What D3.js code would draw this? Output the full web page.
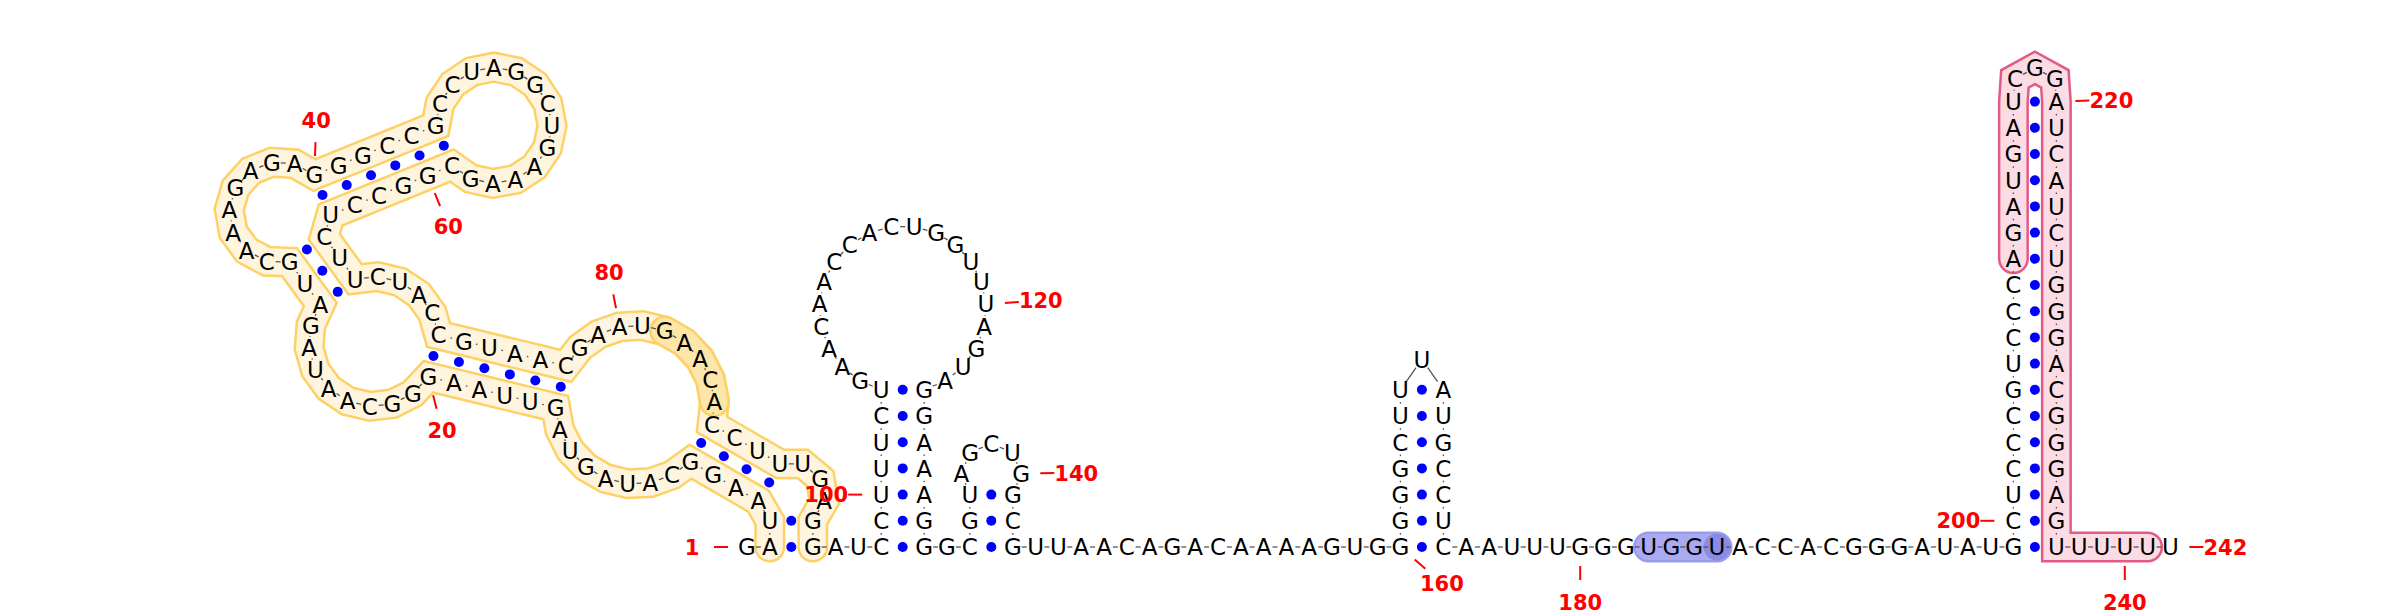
<!DOCTYPE html>
<html><head><meta charset="utf-8">
<script src="https://cdn.jsdelivr.net/npm/d3@7"></script>
<style>body{margin:0;background:#fff;} svg{display:block;}</style>
</head><body>
<svg id="chart" width="2400" height="614"></svg>
<script>
// ---------------- data ----------------
const sequenceChunks = [
  "GAUAAGGCAU","AGUAGUUAAG","GGCAAUAGAU","GCAAAGAGAG","GGCCGCCUAG",
  "GCUGAAAGCG","GCCUCUUCUA","CCGUAACGAA","UGAACACCUU","UGAGGAUCCU",
  "UUCUGAACAA","CCACUGGUUU","AGUAGGAAAG","GGCGUAGCUG","GCGUUAACAG",
  "ACAAAAGUGG","GGGCUUUAUG","CCUCAAUUUG","GGUGGUACCA","CGGGAUAUGC",
  "UCCCGUCCCA","GAUGAUCGGA","UCAUCUGGGA","CGGGAGUUUU","UU"
];
// helices: [5' start, 3' end, number of stacked pairs]
const helixStarts  = [2, 4, 15, 29, 40, 98, 133, 160, 199];
const helixEnds    = [95, 90, 77, 67, 64, 131, 143, 174, 237];
const helixLengths = [2, 4, 6, 3, 6, 7, 3, 7, 18];
const numberedBases = [1, 20, 40, 60, 80, 100, 120, 140, 160, 180, 200, 220, 240, 242];
// highlighted base ranges
const highlightFrom = [2, 82, 183, 186, 210];
const highlightTo   = [95, 86, 186, 186, 241];

// ---------------- styles / geometry ----------------
const highlightStyle = [
  {fill: "#fff5de", stroke: "#fdd166"},
  {fill: "#fde6a9", stroke: "#fdd166"},
  {fill: "#aaaaf2", stroke: "#9b9bee"},
  {fill: "#8b8be6", stroke: "none"},
  {fill: "#fbdce5", stroke: "#e35b84"}
];
const PX = 22.8;                 // backbone spacing in pixels
const UNIT_B = 1, UNIT_P = 43 / PX, UNIT_S = 26.2 / PX, TINY_R = 1.0;
const FONT = "'DejaVu Sans', 'Liberation Sans', sans-serif";
const BASE_FS = 23, LABEL_FS = 21;

const sequence = sequenceChunks.join("");
const n = sequence.length;
const partner = new Array(n + 2).fill(0);
helixStarts.forEach((s, h) => {
  for (let k = 0; k < helixLengths[h]; k++) {
    partner[s + k] = helixEnds[h] - k;
    partner[helixEnds[h] - k] = s + k;
  }
});

// ---------------- layout (circle loops, straight helices, flat exterior) ----------------
const pos = new Array(n + 1);
function layoutHelix(i, j, d) {
  while (partner[i + 1] === j - 1 && i + 1 < j - 1) {
    pos[i + 1] = {x: pos[i].x + d.x * UNIT_S, y: pos[i].y + d.y * UNIT_S};
    pos[j - 1] = {x: pos[j].x + d.x * UNIT_S, y: pos[j].y + d.y * UNIT_S};
    i++; j--;
  }
  layoutLoop(i, j, d);
}
function layoutLoop(i, j, d) {
  const verts = [i], children = [];
  let k = i + 1;
  while (k < j) {
    if (partner[k] > k) { verts.push(k, partner[k]); children.push([k, partner[k]]); k = partner[k] + 1; }
    else { verts.push(k); k++; }
  }
  verts.push(j);
  const chords = [];
  for (let t = 0; t < verts.length - 1; t++)
    chords.push(partner[verts[t]] === verts[t + 1] ? UNIT_P : UNIT_B);
  const total = R => chords.reduce((s, c) => s + 2 * Math.asin(Math.min(1, c / (2 * R))), 0)
                     + 2 * Math.asin(Math.min(1, UNIT_P / (2 * R)));
  let R, steps;
  if (total(UNIT_P / 2) >= 2 * Math.PI) {
    let lo = UNIT_P / 2, hi = 200;
    for (let it = 0; it < 200; it++) { const m = (lo + hi) / 2; if (total(m) > 2 * Math.PI) lo = m; else hi = m; }
    R = (lo + hi) / 2;
    steps = chords.map(c => 2 * Math.asin(c / (2 * R)));
  } else {
    R = TINY_R;
    const arc = 2 * Math.PI - 2 * Math.asin(UNIT_P / (2 * R));
    steps = chords.map(() => arc / chords.length);
  }
  const M = {x: (pos[i].x + pos[j].x) / 2, y: (pos[i].y + pos[j].y) / 2};
  const h = Math.sqrt(Math.max(0, R * R - UNIT_P * UNIT_P / 4));
  const C = {x: M.x + d.x * h, y: M.y + d.y * h};
  const a = {x: pos[i].x - C.x, y: pos[i].y - C.y}, b = {x: pos[j].x - C.x, y: pos[j].y - C.y};
  const sigma = -Math.sign(a.x * b.y - a.y * b.x) || 1;
  let phi = Math.atan2(a.y, a.x);
  for (let t = 1; t < verts.length - 1; t++) {
    phi += sigma * steps[t - 1];
    pos[verts[t]] = {x: C.x + R * Math.cos(phi), y: C.y + R * Math.sin(phi)};
  }
  children.forEach(([p, q]) => {
    const mid = {x: (pos[p].x + pos[q].x) / 2, y: (pos[p].y + pos[q].y) / 2};
    const L = Math.hypot(mid.x - C.x, mid.y - C.y);
    layoutHelix(p, q, {x: (mid.x - C.x) / L, y: (mid.y - C.y) / L});
  });
}
{
  let x = 0, k = 1;
  while (k <= n) {
    if (partner[k] > k) {
      const j = partner[k];
      pos[k] = {x, y: 0}; pos[j] = {x: x + UNIT_P, y: 0};
      layoutHelix(k, j, {x: 0, y: -1});
      x += UNIT_P + UNIT_B; k = j + 1;
    } else { pos[k] = {x, y: 0}; x += UNIT_B; k++; }
  }
}
// exterior-loop membership (for number label orientation)
const exterior = new Array(n + 1).fill(false);
{
  let depth = 0;
  for (let k = 1; k <= n; k++) {
    if (partner[k] > k) { exterior[k] = depth === 0; depth++; }
    else if (partner[k] && partner[k] < k) { depth--; exterior[k] = depth === 0; }
    else exterior[k] = depth === 0;
  }
}

// ---------------- scales ----------------
const xs = d3.scaleLinear().domain([0, 1]).range([747, 747 + PX]);
const ys = d3.scaleLinear().domain([0, 1]).range([547, 547 + PX]);
const X = k => xs(pos[k].x), Y = k => ys(pos[k].y);

const svg = d3.select("#chart");
svg.append("rect").attr("width", 2400).attr("height", 614).attr("fill", "#fff");

// ---------------- highlight regions ----------------
const gH = svg.append("g");
const line = d3.line().x(X).y(Y);
highlightFrom.forEach((f, r) => {
  const st = highlightStyle[r];
  const ids = d3.range(f, highlightTo[r] + 1);
  const grp = gH.append("g");
  if (ids.length === 1) {
    grp.append("circle").attr("cx", X(f)).attr("cy", Y(f)).attr("r", 13.5)
      .attr("fill", st.fill).attr("stroke", st.stroke === "none" ? "none" : st.stroke).attr("stroke-width", 2.5);
  } else {
    if (st.stroke !== "none")
      grp.append("path").attr("d", line(ids)).attr("fill", "none").attr("stroke", st.stroke)
        .attr("stroke-width", 31).attr("stroke-linecap", "round").attr("stroke-linejoin", "miter")
        .attr("stroke-miterlimit", 3);
    grp.append("path").attr("d", line(ids)).attr("fill", "none").attr("stroke", st.fill)
      .attr("stroke-width", 26).attr("stroke-linecap", "round").attr("stroke-linejoin", "miter")
      .attr("stroke-miterlimit", 3);
  }
});

// ---------------- backbone ----------------
const gB = svg.append("g").attr("stroke", "#555").attr("stroke-width", 1.3).attr("stroke-linecap", "butt");
for (let k = 1; k < n; k++) {
  const x1 = X(k), y1 = Y(k), x2 = X(k + 1), y2 = Y(k + 1);
  const L = Math.hypot(x2 - x1, y2 - y1), ux = (x2 - x1) / L, uy = (y2 - y1) / L;
  const stacked = partner[k] && partner[k + 1] && partner[k + 1] === partner[k] - 1;
  if (stacked) {
    const mx = (x1 + x2) / 2, my = (y1 + y2) / 2;
    gB.append("line").attr("x1", mx - ux * 0.8).attr("y1", my - uy * 0.8)
      .attr("x2", mx + ux * 0.8).attr("y2", my + uy * 0.8);
  } else {
    const r = 1 / Math.sqrt(ux * ux / (8.9 * 8.9) + uy * uy / (11 * 11));
    if (L - 2 * r > 0.6)
      gB.append("line").attr("x1", x1 + ux * r).attr("y1", y1 + uy * r)
        .attr("x2", x2 - ux * r).attr("y2", y2 - uy * r);
  }
}

// ---------------- base pairs ----------------
const pairList = d3.range(1, n + 1).filter(k => partner[k] > k);
svg.append("g").selectAll("circle").data(pairList).join("circle")
  .attr("cx", k => (X(k) + X(partner[k])) / 2)
  .attr("cy", k => (Y(k) + Y(partner[k])) / 2)
  .attr("r", 5).attr("fill", "#0000ff");

// ---------------- letters ----------------
svg.append("g").selectAll("text").data(d3.range(1, n + 1)).join("text")
  .attr("x", X).attr("y", k => Y(k) + BASE_FS * 0.364)
  .attr("text-anchor", "middle")
  .attr("font-family", FONT).attr("font-size", BASE_FS).attr("fill", "#000")
  .text(k => sequence[k - 1]);

// ---------------- numbering ----------------
const gN = svg.append("g");
numberedBases.forEach(k => {
  let ux, uy;
  if (k === 1) { ux = X(1) - X(2); uy = Y(1) - Y(2); }
  else if (k === n) { ux = X(n) - X(n - 1); uy = Y(n) - Y(n - 1); }
  else {
    const vx = X(k + 1) - X(k - 1), vy = Y(k + 1) - Y(k - 1);
    if (exterior[k]) { ux = -vy; uy = vx; } else { ux = vy; uy = -vx; }
  }
  const L = Math.hypot(ux, uy); ux /= L; uy /= L;
  gN.append("line").attr("x1", X(k) + ux * 19).attr("y1", Y(k) + uy * 19)
    .attr("x2", X(k) + ux * 33).attr("y2", Y(k) + uy * 33)
    .attr("stroke", "#ff0000").attr("stroke-width", 2);
  gN.append("text").attr("x", X(k) + ux * 55).attr("y", Y(k) + uy * 55 + LABEL_FS * 0.364)
    .attr("text-anchor", "middle").attr("font-family", FONT).attr("font-weight", "bold")
    .attr("font-size", LABEL_FS).attr("fill", "#ff0000").text(k);
});
</script>
</body></html>
